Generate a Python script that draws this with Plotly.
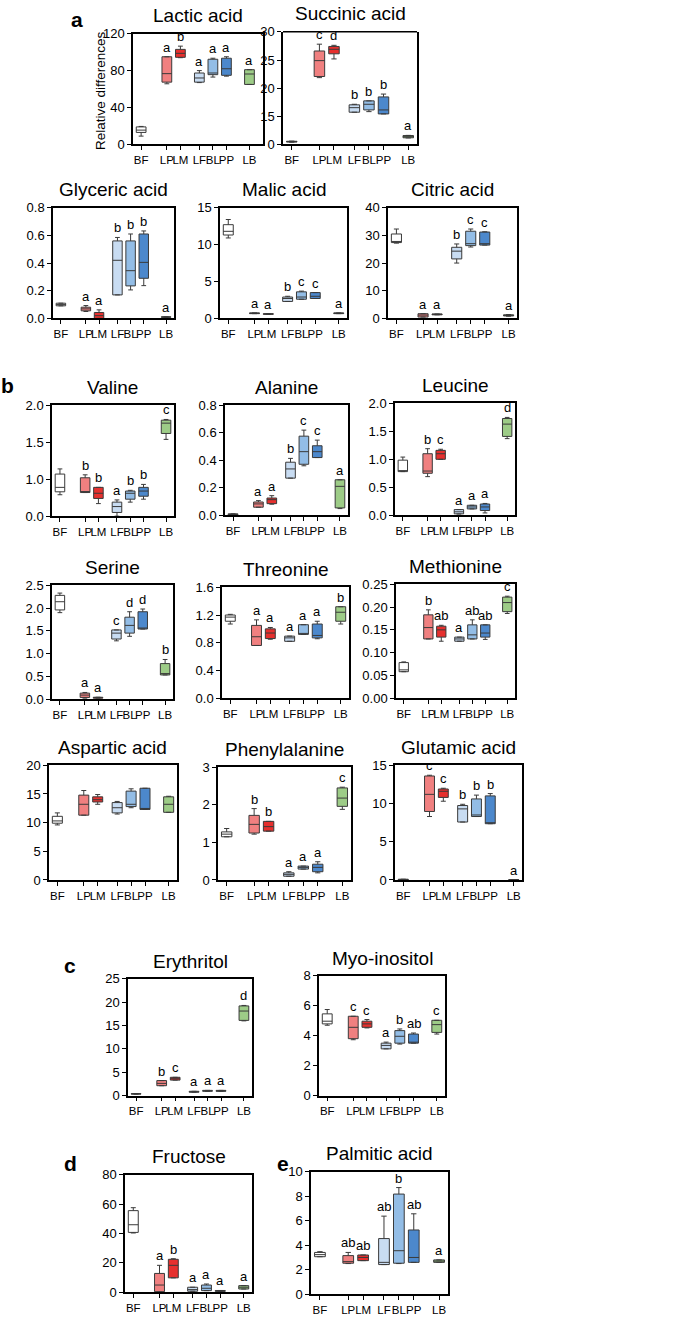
import plotly.graph_objects as go

W, H = 685, 1322
FONT = "Liberation Sans Narrow, Arial Narrow, Liberation Sans, Arial, sans-serif"

groups = ['BF', 'LP', 'LM', 'LF', 'BL', 'PP', 'LB']
group_x = [0, 1.9, 2.9, 4.3, 5.3, 6.3, 8.0]
fill_colors = ['#FFFFFF', '#F08080', '#E6302E', '#C8DCF2', '#93BDE6', '#4C88CC', '#9DCC87']

# ---------------- data (per group: BF, LP, LM, LF, BL, PP, LB) ----------------
lactic_lo  = [9, 65.7, 94, 67, 73, 74, 65]
lactic_q1  = [13, 67.5, 94.4, 67.5, 75.6, 74.9, 65]
lactic_med = [15.5, 76.7, 98.7, 72, 77.4, 82, 76.3]
lactic_q3  = [19, 95, 103, 77.4, 92.3, 93.4, 81]
lactic_hi  = [19.5, 95, 106.5, 80, 93.4, 95, 81]
lactic_sig = ['', 'a', 'b', 'a', 'a', 'a', 'a']

succinic_lo  = [1.2, 21.9, 25.2, 15.8, 15.9, 15.5, 3.5]
succinic_q1  = [1.3, 22.1, 26.1, 15.8, 16.2, 15.5, 3.6]
succinic_med = [1.5, 24.9, 26.9, 16.6, 17.2, 16.2, 4.2]
succinic_q3  = [1.7, 26.6, 27.4, 17.1, 17.8, 18.5, 4.8]
succinic_hi  = [1.8, 27.8, 27.6, 17.2, 17.8, 19.0, 4.9]
succinic_sig = ['', 'c', 'd', 'b', 'b', 'b', 'a']

glyceric_lo  = [0.091, 0.05, 0.0, 0.17, 0.206, 0.237, 0.008]
glyceric_q1  = [0.091, 0.055, 0.0, 0.17, 0.235, 0.29, 0.008]
glyceric_med = [0.10, 0.069, 0.02, 0.42, 0.345, 0.405, 0.01]
glyceric_q3  = [0.11, 0.081, 0.043, 0.56, 0.56, 0.61, 0.012]
glyceric_hi  = [0.11, 0.093, 0.062, 0.585, 0.61, 0.632, 0.012]
glyceric_sig = ['', 'a', 'a', 'b', 'b', 'b', 'a']

malic_lo  = [10.9, 0.65, 0.55, 2.3, 2.6, 2.7, 0.65]
malic_q1  = [11.3, 0.65, 0.55, 2.3, 2.6, 2.7, 0.65]
malic_med = [11.8, 0.7, 0.6, 2.7, 2.9, 3.0, 0.7]
malic_q3  = [12.7, 0.75, 0.65, 2.9, 3.6, 3.5, 0.75]
malic_hi  = [13.4, 0.75, 0.65, 3.0, 3.7, 3.5, 0.75]
malic_sig = ['', 'a', 'a', 'b', 'c', 'c', 'a']

citric_lo  = [27.2, 0.5, 1.3, 20.0, 25.8, 26.5, 0.8]
citric_q1  = [27.4, 0.5, 1.3, 21.5, 26.3, 26.5, 0.9]
citric_med = [27.8, 1.2, 1.5, 24.3, 27.0, 27.0, 1.1]
citric_q3  = [30.5, 1.7, 1.6, 25.7, 31.5, 31.2, 1.3]
citric_hi  = [32.3, 1.7, 1.6, 26.9, 32.3, 31.3, 1.4]
citric_sig = ['', 'a', 'a', 'b', 'c', 'c', 'a']

valine_lo  = [0.79, 0.82, 0.67, 0.50, 0.69, 0.73, 1.54]
valine_q1  = [0.83, 0.82, 0.74, 0.55, 0.73, 0.77, 1.62]
valine_med = [0.89, 0.83, 0.81, 0.63, 0.81, 0.84, 1.76]
valine_q3  = [1.07, 1.02, 0.89, 0.69, 0.84, 0.89, 1.80]
valine_hi  = [1.14, 1.06, 0.89, 0.72, 0.85, 0.93, 1.81]
valine_sig = ['', 'b', 'b', 'a', 'b', 'b', 'c']

alanine_lo  = [0.0, 0.058, 0.08, 0.27, 0.36, 0.42, 0.048]
alanine_q1  = [0.0, 0.058, 0.084, 0.27, 0.371, 0.42, 0.053]
alanine_med = [0.005, 0.082, 0.113, 0.337, 0.463, 0.463, 0.21]
alanine_q3  = [0.01, 0.096, 0.125, 0.386, 0.576, 0.506, 0.258]
alanine_hi  = [0.01, 0.106, 0.142, 0.414, 0.62, 0.547, 0.258]
alanine_sig = ['', 'a', 'a', 'b', 'c', 'c', 'a']

leucine_lo  = [0.78, 0.69, 1.0, 0.02, 0.112, 0.04, 1.37]
leucine_q1  = [0.78, 0.75, 1.0, 0.024, 0.112, 0.083, 1.41]
leucine_med = [0.79, 0.79, 1.10, 0.06, 0.147, 0.147, 1.63]
leucine_q3  = [0.985, 1.10, 1.16, 0.10, 0.177, 0.20, 1.73]
leucine_hi  = [1.04, 1.19, 1.18, 0.10, 0.177, 0.21, 1.75]
leucine_sig = ['', 'b', 'c', 'a', 'a', 'a', 'd']

serine_lo  = [1.90, 0.02, 0.02, 1.28, 1.38, 1.54, 0.53]
serine_q1  = [1.96, 0.036, 0.02, 1.32, 1.45, 1.54, 0.53]
serine_med = [2.14, 0.087, 0.03, 1.45, 1.62, 1.54, 0.56]
serine_q3  = [2.28, 0.13, 0.04, 1.52, 1.80, 1.92, 0.78]
serine_hi  = [2.33, 0.145, 0.04, 1.52, 1.92, 1.98, 0.87]
serine_sig = ['', 'a', 'a', 'c', 'd', 'd', 'b']

threonine_lo  = [1.07, 0.76, 0.85, 0.82, 0.92, 0.857, 1.07]
threonine_q1  = [1.11, 0.76, 0.86, 0.82, 0.92, 0.87, 1.11]
threonine_med = [1.17, 0.886, 0.94, 0.87, 0.92, 0.905, 1.24]
threonine_q3  = [1.20, 1.05, 1.0, 0.895, 1.06, 1.07, 1.32]
threonine_hi  = [1.21, 1.13, 1.02, 0.895, 1.06, 1.11, 1.32]
threonine_sig = ['', 'a', 'a', 'a', 'a', 'a', 'b']

methionine_lo  = [0.058, 0.13, 0.125, 0.125, 0.13, 0.129, 0.186]
methionine_q1  = [0.058, 0.13, 0.134, 0.125, 0.13, 0.134, 0.19]
methionine_med = [0.062, 0.155, 0.15, 0.13, 0.139, 0.143, 0.21]
methionine_q3  = [0.078, 0.183, 0.158, 0.134, 0.161, 0.161, 0.222]
methionine_hi  = [0.0795, 0.194, 0.16, 0.134, 0.172, 0.161, 0.224]
methionine_sig = ['', 'b', 'ab', 'a', 'ab', 'ab', 'c']

aspartic_lo  = [9.6, 11.3, 13.2, 11.5, 12.6, 12.3, 11.8]
aspartic_q1  = [9.9, 11.3, 13.6, 11.7, 12.8, 12.3, 11.8]
aspartic_med = [10.3, 13.2, 14.0, 12.6, 13.2, 12.4, 13.2]
aspartic_q3  = [11.1, 14.8, 14.5, 13.5, 15.5, 16.0, 14.5]
aspartic_hi  = [11.7, 15.6, 14.9, 13.7, 15.9, 16.0, 14.6]
aspartic_sig = ['', '', '', '', '', '', '']

phenylalanine_lo  = [1.15, 1.22, 1.30, 0.10, 0.29, 0.19, 1.88]
phenylalanine_q1  = [1.15, 1.25, 1.30, 0.10, 0.29, 0.22, 1.96]
phenylalanine_med = [1.22, 1.48, 1.42, 0.15, 0.335, 0.335, 2.18]
phenylalanine_q3  = [1.28, 1.72, 1.56, 0.19, 0.37, 0.42, 2.45]
phenylalanine_hi  = [1.37, 1.90, 1.56, 0.22, 0.37, 0.485, 2.47]
phenylalanine_sig = ['', 'b', 'b', 'a', 'a', 'a', 'c']

glutamic_lo  = [0.0, 8.3, 10.3, 7.58, 8.3, 7.36, 0.0]
glutamic_q1  = [0.0, 8.96, 10.8, 7.58, 8.3, 7.36, 0.0]
glutamic_med = [0.05, 11.2, 11.6, 9.3, 8.5, 7.45, 0.03]
glutamic_q3  = [0.1, 13.6, 11.9, 9.74, 10.6, 11.0, 0.06]
glutamic_hi  = [0.1, 13.7, 12.0, 9.9, 11.1, 11.3, 0.06]
glutamic_sig = ['', 'c', 'c', 'b', 'b', 'b', 'a']

erythritol_lo  = [0.3, 2.1, 3.3, 0.7, 0.9, 0.9, 16.0]
erythritol_q1  = [0.3, 2.1, 3.3, 0.7, 0.9, 0.9, 16.1]
erythritol_med = [0.35, 2.6, 3.6, 0.8, 1.0, 1.0, 18.1]
erythritol_q3  = [0.4, 3.2, 3.9, 0.9, 1.1, 1.1, 19.2]
erythritol_hi  = [0.4, 3.2, 3.9, 0.9, 1.1, 1.1, 19.3]
erythritol_sig = ['', 'b', 'c', 'a', 'a', 'a', 'd']

myo_lo  = [4.7, 3.73, 4.52, 3.12, 3.44, 3.5, 4.11]
myo_q1  = [4.79, 3.8, 4.56, 3.12, 3.5, 3.5, 4.22]
myo_med = [4.97, 4.56, 4.79, 3.35, 3.96, 3.55, 4.74]
myo_q3  = [5.46, 5.3, 4.97, 3.5, 4.34, 4.11, 5.03]
myo_hi  = [5.75, 5.3, 5.08, 3.57, 4.45, 4.18, 5.03]
myo_sig = ['', 'c', 'c', 'a', 'b', 'ab', 'c']

fructose_lo  = [40.3, 0.0, 9.8, 0.7, 1.1, 0.6, 2.2]
fructose_q1  = [40.7, 0.4, 9.8, 0.7, 1.1, 0.6, 2.2]
fructose_med = [45.9, 4.9, 18.3, 1.8, 2.7, 0.9, 3.4]
fructose_q3  = [55.5, 12.8, 22.4, 3.4, 4.9, 1.2, 4.5]
fructose_hi  = [57.5, 18.3, 22.8, 3.4, 5.6, 1.2, 4.5]
fructose_sig = ['', 'a', 'b', 'a', 'a', 'a', 'a']

palmitic_lo  = [3.06, 2.5, 2.74, 2.42, 2.5, 2.6, 2.6]
palmitic_q1  = [3.06, 2.53, 2.74, 2.42, 2.53, 2.6, 2.6]
palmitic_med = [3.23, 2.66, 3.0, 2.6, 3.55, 3.0, 2.7]
palmitic_q3  = [3.41, 3.15, 3.2, 4.54, 8.17, 5.24, 2.8]
palmitic_hi  = [3.47, 3.41, 3.2, 6.37, 8.7, 6.56, 2.8]
palmitic_sig = ['', 'ab', 'ab', 'ab', 'b', 'ab', 'a']

# ---------------- panel definitions ----------------
# (title, stats, y ticks, y tick labels, box in pixels: left, right, top, bottom)
panels = [
    ("Lactic acid", (lactic_lo, lactic_q1, lactic_med, lactic_q3, lactic_hi, lactic_sig),
     [0, 40, 80, 120], None, (133, 263, 27, 139)),
    ("Succinic acid", (succinic_lo, succinic_q1, succinic_med, succinic_q3, succinic_hi, succinic_sig),
     [15, 20, 25, 30], None, (283, 417, 25, 139)),
    ("Glyceric acid", (glyceric_lo, glyceric_q1, glyceric_med, glyceric_q3, glyceric_hi, glyceric_sig),
     [0, 0.2, 0.4, 0.6, 0.8], ['0.0', '0.2', '0.4', '0.6', '0.8'], (53, 174, 203, 315)),
    ("Malic acid", (malic_lo, malic_q1, malic_med, malic_q3, malic_hi, malic_sig),
     [0, 5, 10, 15], None, (220, 347, 203, 315)),
    ("Citric acid", (citric_lo, citric_q1, citric_med, citric_q3, citric_hi, citric_sig),
     [0, 10, 20, 30, 40], None, (388, 517, 203, 315)),
    ("Valine", (valine_lo, valine_q1, valine_med, valine_q3, valine_hi, valine_sig),
     [0.5, 1.0, 1.5, 2.0], ['0.0', '1.0', '1.5', '2.0'], (52, 174, 403, 515)),
    ("Alanine", (alanine_lo, alanine_q1, alanine_med, alanine_q3, alanine_hi, alanine_sig),
     [0, 0.2, 0.4, 0.6, 0.8], ['0.0', '0.2', '0.4', '0.6', '0.8'], (225, 348, 403, 514)),
    ("Leucine", (leucine_lo, leucine_q1, leucine_med, leucine_q3, leucine_hi, leucine_sig),
     [0, 0.5, 1.0, 1.5, 2.0], ['0.0', '0.5', '1.0', '1.5', '2.0'], (395, 515, 401, 514)),
    ("Serine", (serine_lo, serine_q1, serine_med, serine_q3, serine_hi, serine_sig),
     [0, 0.5, 1.0, 1.5, 2.0, 2.5], ['0.0', '0.5', '1.0', '1.5', '2.0', '2.5'], (52, 173, 585, 700)),
    ("Threonine", (threonine_lo, threonine_q1, threonine_med, threonine_q3, threonine_hi, threonine_sig),
     [0, 0.4, 0.8, 1.2, 1.6], ['0.0', '0.4', '0.8', '1.2', '1.6'], (222, 349, 587, 699)),
    ("Methionine", (methionine_lo, methionine_q1, methionine_med, methionine_q3, methionine_hi, methionine_sig),
     [0, 0.05, 0.1, 0.15, 0.2, 0.25], ['0.00', '0.05', '0.10', '0.15', '0.20', '0.25'], (396, 515, 584, 699)),
    ("Aspartic acid", (aspartic_lo, aspartic_q1, aspartic_med, aspartic_q3, aspartic_hi, aspartic_sig),
     [0, 5, 10, 15, 20], None, (49, 177, 767, 883)),
    ("Phenylalanine", (phenylalanine_lo, phenylalanine_q1, phenylalanine_med, phenylalanine_q3, phenylalanine_hi, phenylalanine_sig),
     [0, 1, 2, 3], None, (218, 351, 769, 883)),
    ("Glutamic acid", (glutamic_lo, glutamic_q1, glutamic_med, glutamic_q3, glutamic_hi, glutamic_sig),
     [0, 5, 10, 15], None, (395, 522, 767, 883)),
    ("Erythritol", (erythritol_lo, erythritol_q1, erythritol_med, erythritol_q3, erythritol_hi, erythritol_sig),
     [0, 5, 10, 15, 20, 25], None, (128, 252, 983, 1101)),
    ("Myo-inositol", (myo_lo, myo_q1, myo_med, myo_q3, myo_hi, myo_sig),
     [0, 2, 4, 6, 8], None, (319, 445, 980, 1101)),
    ("Fructose", (fructose_lo, fructose_q1, fructose_med, fructose_q3, fructose_hi, fructose_sig),
     [0, 20, 40, 60, 80], None, (125, 252, 1181, 1300)),
    ("Palmitic acid", (palmitic_lo, palmitic_q1, palmitic_med, palmitic_q3, palmitic_hi, palmitic_sig),
     [0, 2, 4, 6, 8, 10], None, (311, 448, 1178, 1302)),
]

SUCC_BREAK = 15      # value where the succinic axis is broken
SUCC_BREAK_PX = 111  # pixel row of the break

fig = go.Figure()
layout = {}
annotations = []
shapes = []


def xdom(l, r):
    return [l / W, r / W]


def ydom(t, b):
    return [1 - b / H, 1 - t / H]


def yaxis_style(**kw):
    d = dict(showgrid=False, zeroline=False, showline=True, linecolor='black', linewidth=1.5,
             ticks='outside', ticklen=4, tickwidth=1, tickcolor='black',
             tickfont=dict(family=FONT, size=13, color='black'))
    d.update(kw)
    return d


n_extra = len(panels)
for i, (title, stats, ticks, ticklabels, box) in enumerate(panels, start=1):
    lo, q1, med, q3, hi, sig = stats
    l, r, t, b = box
    xref = 'x' if i == 1 else f'x{i}'
    yref = 'y' if i == 1 else f'y{i}'
    xkey = 'xaxis' if i == 1 else f'xaxis{i}'
    ykey = 'yaxis' if i == 1 else f'yaxis{i}'
    split = (title == "Succinic acid")
    low_yref = None
    if split:
        n_extra += 1
        low_yref = f'y{n_extra}'
        low_key = f'yaxis{n_extra}'

    for g in range(7):
        tr_y = yref
        if split and hi[g] < SUCC_BREAK:
            tr_y = low_yref
        fig.add_trace(go.Box(
            x=[group_x[g]], q1=[q1[g]], median=[med[g]], q3=[q3[g]],
            lowerfence=[lo[g]], upperfence=[hi[g]],
            xaxis=xref, yaxis=tr_y, width=0.72, whiskerwidth=0.5,
            fillcolor=fill_colors[g], line=dict(color='#3a3a3a', width=1),
            boxpoints=False, showlegend=False, hoverinfo='skip'))
        if sig[g]:
            annotations.append(dict(x=group_x[g], y=hi[g], xref=xref, yref=tr_y,
                                    text=sig[g], showarrow=False, yanchor='bottom', yshift=0,
                                    font=dict(family=FONT, size=13, color='black')))

    rng_x = [-0.6, 9.0] if i == 1 else [-0.6, 8.6]
    layout[xkey] = dict(domain=xdom(l, r), range=rng_x, tickmode='array', tickvals=group_x,
                        ticktext=groups, tickangle=0, showgrid=False, zeroline=False, showline=True,
                        linecolor='black', linewidth=1.5, mirror=not split,
                        ticks='outside', ticklen=4, tickwidth=1, tickcolor='black',
                        anchor=low_yref if split else yref,
                        tickfont=dict(family=FONT, size=11.5, color='black'))
    if split:
        layout[ykey] = yaxis_style(domain=ydom(t, SUCC_BREAK_PX), range=[SUCC_BREAK, max(ticks)],
                                   tickmode='array', tickvals=ticks, anchor=xref, mirror=True)
        layout[low_key] = yaxis_style(domain=ydom(SUCC_BREAK_PX, b), range=[0, SUCC_BREAK],
                                      tickmode='array', tickvals=[0], anchor=xref, mirror=True)
        shapes.append(dict(type='line', xref='paper', yref='paper', x0=l / W, x1=r / W,
                           y0=1 - t / H, y1=1 - t / H, line=dict(color='black', width=1.5)))
    else:
        layout[ykey] = yaxis_style(domain=ydom(t, b), range=[min(ticks), max(ticks)],
                                   tickmode='array', tickvals=ticks,
                                   ticktext=ticklabels if ticklabels else [str(v) for v in ticks],
                                   anchor=xref, mirror=True)

    annotations.append(dict(x=(l + r) / 2 / W, y=1 - (t - 18) / H, xref='paper', yref='paper',
                            text=title, showarrow=False, xanchor='center', yanchor='middle',
                            font=dict(family=FONT, size=19, color='black')))

# y-axis title of the first panel
annotations.append(dict(x=100 / W, y=1 - 84 / H, xref='paper', yref='paper',
                        text='Relative differences', textangle=-90, showarrow=False,
                        xanchor='center', yanchor='middle',
                        font=dict(family=FONT, size=13.5, color='black')))

# panel letters
for letter, px, py in [('a', 77, 13), ('b', 7, 383), ('c', 70, 970), ('d', 70, 1170), ('e', 283, 1170)]:
    annotations.append(dict(x=px / W, y=1 - py / H, xref='paper', yref='paper',
                            text=f'<b>{letter}</b>', showarrow=False, xanchor='center', yanchor='middle',
                            font=dict(family='Liberation Sans, Arial, sans-serif', size=21, color='black')))

fig.update_layout(width=W, height=H, margin=dict(l=0, r=0, t=0, b=0),
                  paper_bgcolor='white', plot_bgcolor='white',
                  annotations=annotations, shapes=shapes, **layout)

fig.write_html("out.html", config={'displayModeBar': False},
               post_script="document.body.style.margin='0';")
